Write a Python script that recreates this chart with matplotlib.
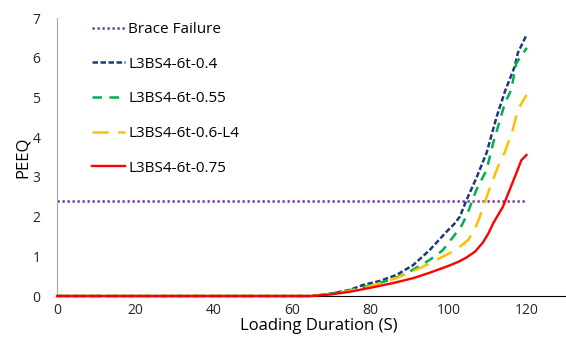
import matplotlib
matplotlib.use('Agg')
from matplotlib import pyplot as plt

plt.rcParams['font.family'] = ['Open Sans', 'DejaVu Sans']

# brace failure threshold
braceX = [0, 120]
braceY = [2.38, 2.38]

# L3BS4-6t-0.4
x04 = [0, 65, 70, 75, 78.2, 82.5, 86.7, 91, 95.2, 99.5, 101.5, 102.9, 104.6, 107.1, 109.7,
       112.3, 114.4, 116.9, 117.7, 119.9]
y04 = [0, 0, 0.06, 0.16, 0.28, 0.38, 0.53, 0.78, 1.16, 1.62, 1.82, 2.0, 2.42, 2.97, 3.6,
       4.52, 5.15, 5.78, 6.12, 6.57]

# L3BS4-6t-0.55
x055 = [0, 65, 70, 75, 80, 85, 89.3, 95.2, 98.5, 101.2, 103.5, 105, 107.1, 109.7, 111.4,
        114.4, 116, 117.3, 120]
y055 = [0, 0, 0.06, 0.15, 0.27, 0.4, 0.57, 0.91, 1.15, 1.49, 1.8, 2.12, 2.67, 3.17, 3.85,
        4.86, 5.19, 5.86, 6.25]

# L3BS4-6t-0.6-L4
x06 = [0, 65, 70, 75, 80, 86.7, 93.5, 100.3, 103, 105, 106.8, 108, 110.5, 113, 114.4,
       116.4, 117.7, 119.9]
y06 = [0, 0, 0.05, 0.13, 0.25, 0.45, 0.74, 1.08, 1.25, 1.41, 1.7, 2.0, 2.71, 3.35, 3.63,
       4.18, 4.69, 5.06]

# L3BS4-6t-0.75
x075 = [0, 65, 70, 75, 80.7, 86, 91, 95, 99.5, 102.5, 104.6, 106.8, 108.8, 110.2, 111.4,
        113.9, 115.6, 117.3, 118.6, 119.9]
y075 = [0, 0, 0.04, 0.11, 0.22, 0.33, 0.45, 0.58, 0.74, 0.86, 0.97, 1.12, 1.35, 1.58, 1.83,
        2.25, 2.67, 3.09, 3.42, 3.55]

fig = plt.figure(figsize=(5.66, 3.4), dpi=100)
ax = fig.add_axes([0.1007, 0.1294, 0.8993, 0.8176])

lw = 1.8
ax.plot(braceX, braceY, color='#7030A0', lw=lw, dashes=(0.9, 1.1), label='Brace Failure')
ax.plot(x04, y04, color='#1F3A78', lw=lw, dashes=(2.2, 1.0), label='L3BS4-6t-0.4', clip_on=False)
ax.plot(x055, y055, color='#00B050', lw=lw, dashes=(3.8, 3.0), label='L3BS4-6t-0.55', clip_on=False)
ax.plot(x06, y06, color='#FFC000', lw=lw, dashes=(6.5, 3.8), label='L3BS4-6t-0.6-L4', clip_on=False)
ax.plot(x075, y075, color='#FF0000', lw=1.7, label='L3BS4-6t-0.75', zorder=5, clip_on=False)

ax.set_xlim(0, 130)
ax.set_ylim(0, 7)
ax.set_xticks([0, 20, 40, 60, 80, 100, 120])
ax.set_yticks(range(8))
ax.tick_params(length=0, labelsize=10, colors='#262626', pad=12)
ax.tick_params(axis='x', pad=5)
for s in ['top', 'right']:
    ax.spines[s].set_visible(False)
ax.spines['left'].set_color('#a6a6a6')
ax.spines['bottom'].set_color('black')

ax.set_xlabel('Loading Duration (S)', fontsize=12)
ax.xaxis.set_label_coords(0.514, -0.078)
ax.set_ylabel('PEEQ', fontsize=12, labelpad=1)

ax.legend(loc='upper left', bbox_to_anchor=(0.068, 0.986), frameon=False,
          fontsize=11, labelspacing=1.29, handlelength=2.2, handletextpad=0.2,
          borderaxespad=0, borderpad=0)

plt.savefig('out.png', dpi=100)
